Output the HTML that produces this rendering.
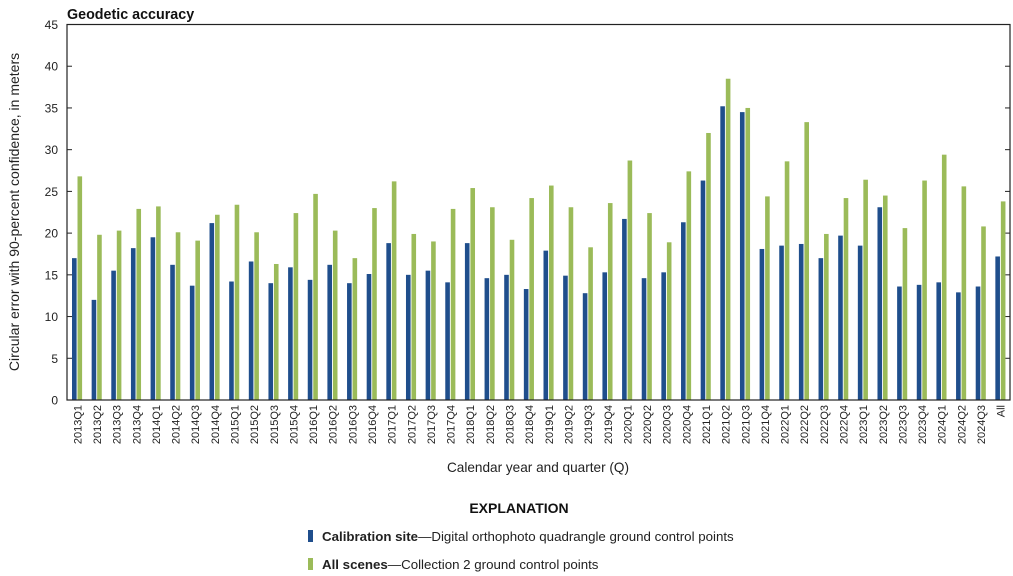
<!DOCTYPE html>
<html><head><meta charset="utf-8"><style>
html,body{margin:0;padding:0;background:#fff;}
svg{display:block;font-family:"Liberation Sans",Arial,sans-serif;}
</style></head><body>
<svg id="c" width="1013" height="576" viewBox="0 0 1013 576" xmlns="http://www.w3.org/2000/svg"></svg>
<script>
const blue=[17.0,12.0,15.5,18.2,19.5,16.2,13.7,21.2,14.2,16.6,14.0,15.9,14.4,16.2,14.0,15.1,18.8,15.0,15.5,14.1,18.8,14.6,15.0,13.3,17.9,14.9,12.8,15.3,21.7,14.6,15.3,21.3,26.3,35.2,34.5,18.1,18.5,18.7,17.0,19.7,18.5,23.1,13.6,13.8,14.1,12.9,13.6,17.2];
const green=[26.8,19.8,20.3,22.9,23.2,20.1,19.1,22.2,23.4,20.1,16.3,22.4,24.7,20.3,17.0,23.0,26.2,19.9,19.0,22.9,25.4,23.1,19.2,24.2,25.7,23.1,18.3,23.6,28.7,22.4,18.9,27.4,32.0,38.5,35.0,24.4,28.6,33.3,19.9,24.2,26.4,24.5,20.6,26.3,29.4,25.6,20.8,23.8];
const labels=[];for(let y=2013;y<=2024;y++)for(let q=1;q<=4;q++)labels.push(y+"Q"+q);labels.length=47;labels.push("All");
const L=67,R=1010,T=24.5,B=400,n=48,cw=(R-L)/n,sc=(B-T)/45;
let s='';
s+=`<text x="67" y="19" font-size="14.3" font-weight="bold" fill="#111">Geodetic accuracy</text>`;
for(let v=0;v<=45;v+=5){const y=B-v*sc;s+=`<text x="58" y="${y+4.5}" font-size="12" text-anchor="end" fill="#222">${v}</text>`;
if(v>0&&v<45){s+=`<line x1="${L}" x2="${L+5}" y1="${y}" y2="${y}" stroke="#222"/><line x1="${R-5}" x2="${R}" y1="${y}" y2="${y}" stroke="#222"/>`;}}
for(let i=0;i<n;i++){const x0=L+i*cw;
s+=`<rect x="${x0+5}" y="${B-blue[i]*sc}" width="4.6" height="${blue[i]*sc}" fill="#1f4e8c"/>`;
s+=`<rect x="${x0+10.5}" y="${B-green[i]*sc}" width="4.6" height="${green[i]*sc}" fill="#9bbb59"/>`;
const cx=x0+cw/2+0.5;
s+=`<text transform="translate(${cx+4},405) rotate(-90)" font-size="11" text-anchor="end" fill="#222">${labels[i]}</text>`;}
s+=`<rect x="${L}" y="${T}" width="${R-L}" height="${B-T}" fill="none" stroke="#222" stroke-width="1.2"/>`;
s+=`<text transform="translate(19,212) rotate(-90)" font-size="14" text-anchor="middle" fill="#222">Circular error with 90-percent confidence, in meters</text>`;
s+=`<text x="538" y="472" font-size="13.6" text-anchor="middle" fill="#222">Calendar year and quarter (Q)</text>`;
s+=`<text x="519" y="513" font-size="14" font-weight="bold" text-anchor="middle" fill="#111">EXPLANATION</text>`;
s+=`<rect x="308" y="530" width="5" height="12" fill="#1f4e8c"/><text x="322" y="541" font-size="13.3" fill="#222"><tspan font-weight="bold">Calibration site</tspan>—Digital orthophoto quadrangle ground control points</text>`;
s+=`<rect x="308" y="558" width="5" height="12" fill="#9bbb59"/><text x="322" y="569" font-size="13.3" fill="#222"><tspan font-weight="bold">All scenes</tspan>—Collection 2 ground control points</text>`;
document.getElementById('c').innerHTML=s;
</script>
</body></html>
